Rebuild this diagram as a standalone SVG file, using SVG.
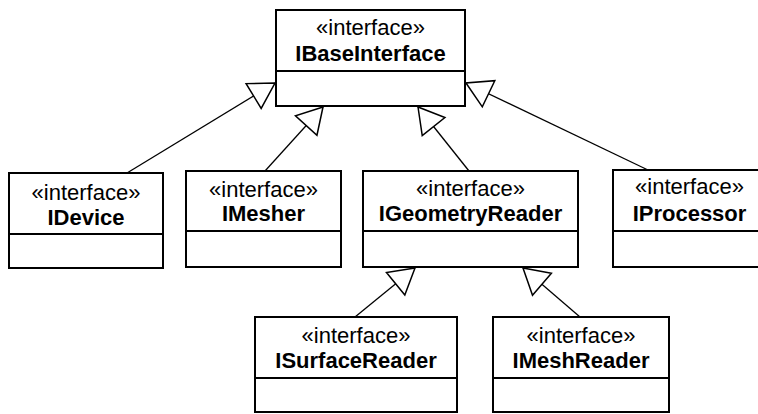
<svg xmlns="http://www.w3.org/2000/svg" width="758" height="414" viewBox="0 0 758 414">
<style>
.box{fill:#fff;stroke:#000;stroke-width:2}
.div{stroke:#000;stroke-width:1.8}
.st{font-family:"Liberation Sans",Arial,sans-serif;font-size:22px;text-anchor:middle;fill:#000}
.nm{font-family:"Liberation Sans",Arial,sans-serif;font-size:22px;font-weight:bold;text-anchor:middle;fill:#000}
.ln{fill:none;stroke:#000;stroke-width:1.3;marker-end:url(#gen)}
</style>
<defs>
<marker id="gen" markerUnits="userSpaceOnUse" viewBox="-27 -17 29 34" refX="0" refY="0" markerWidth="29" markerHeight="34" orient="auto" overflow="visible">
<path d="M0,0 L-25,-14.5 L-25,14.5 Z" fill="#fff" stroke="#000" stroke-width="1.5" stroke-linejoin="miter"/>
</marker>
</defs>
<rect width="758" height="414" fill="#fff"/>
<g id="connectors">
<line class="ln" x1="127" y1="173" x2="275" y2="83"/>
<line class="ln" x1="265" y1="171" x2="323" y2="107"/>
<line class="ln" x1="469" y1="171" x2="418" y2="107"/>
<line class="ln" x1="648" y1="170" x2="466" y2="83"/>
<line class="ln" x1="355" y1="317" x2="415" y2="268"/>
<line class="ln" x1="580" y1="317" x2="523" y2="268"/>
</g>
<g id="IBaseInterface">
<rect class="box" x="276" y="10" width="189" height="96"/>
<line class="div" x1="276" y1="71" x2="465" y2="71"/>
<text class="st" x="370.5" y="35">«interface»</text>
<text class="nm" x="370.5" y="61">IBaseInterface</text>
</g>
<g id="IDevice">
<rect class="box" x="9" y="173" width="154" height="95"/>
<line class="div" x1="9" y1="234" x2="163" y2="234"/>
<text class="st" x="86" y="200">«interface»</text>
<text class="nm" x="86" y="225">IDevice</text>
</g>
<g id="IMesher">
<rect class="box" x="186" y="171" width="155" height="96"/>
<line class="div" x1="186" y1="231" x2="341" y2="231"/>
<text class="st" x="263.5" y="197">«interface»</text>
<text class="nm" x="263.5" y="221">IMesher</text>
</g>
<g id="IGeometryReader">
<rect class="box" x="363" y="171" width="215" height="96"/>
<line class="div" x1="363" y1="231" x2="578" y2="231"/>
<text class="st" x="470.5" y="196">«interface»</text>
<text class="nm" x="470.5" y="221">IGeometryReader</text>
</g>
<g id="IProcessor">
<rect class="box" x="613" y="170" width="153" height="97"/>
<line class="div" x1="613" y1="231" x2="766" y2="231"/>
<text class="st" x="689.5" y="194">«interface»</text>
<text class="nm" x="689.5" y="221">IProcessor</text>
</g>
<g id="ISurfaceReader">
<rect class="box" x="255" y="317" width="202" height="95"/>
<line class="div" x1="255" y1="378" x2="457" y2="378"/>
<text class="st" x="356" y="343">«interface»</text>
<text class="nm" x="356" y="368">ISurfaceReader</text>
</g>
<g id="IMeshReader">
<rect class="box" x="493" y="317" width="176" height="95"/>
<line class="div" x1="493" y1="378" x2="669" y2="378"/>
<text class="st" x="581" y="343">«interface»</text>
<text class="nm" x="581" y="368">IMeshReader</text>
</g>
</svg>
